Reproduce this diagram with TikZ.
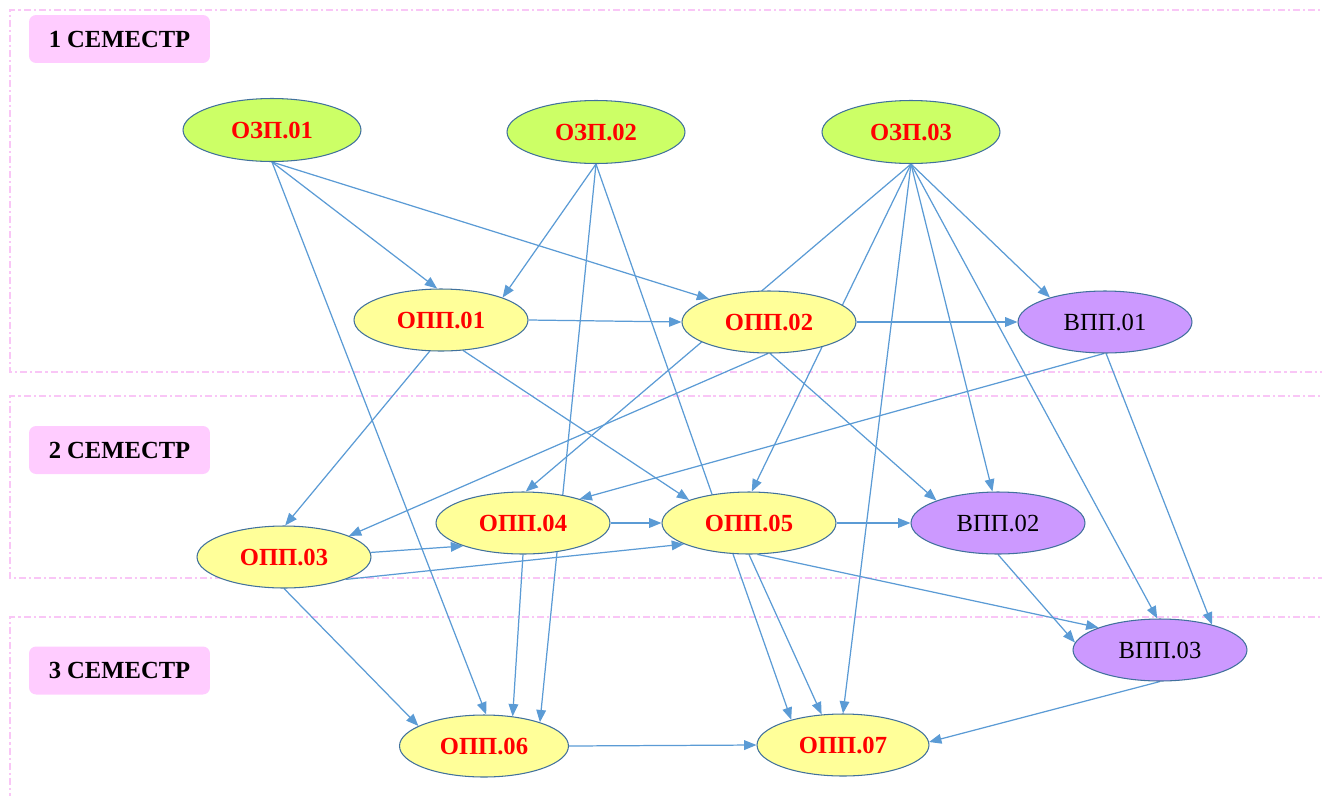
\documentclass[tikz,border=0pt]{standalone}
\usepackage{fontspec}
\setmainfont{Liberation Serif}
\usetikzlibrary{shapes.geometric,arrows.meta}
\definecolor{edgeblue}{HTML}{5B9BD5}
\definecolor{rimblue}{HTML}{41719C}
\definecolor{ozpfill}{HTML}{CCFF66}
\definecolor{oppfill}{HTML}{FFFF99}
\definecolor{vppfill}{HTML}{CC99FF}
\definecolor{semfill}{HTML}{FFCCFF}
\definecolor{semline}{HTML}{F9C6F6}
\pgfdeclarelayer{bg}
\pgfsetlayers{bg,main}
\begin{document}
\begin{tikzpicture}[x=0.02cm,y=-0.02cm,
  course/.style={ellipse, draw=rimblue, line width=0.6pt, minimum width=3.48cm,
    minimum height=1.24cm, inner sep=0pt, text=red,
    font=\fontsize{14}{16}\selectfont\bfseries},
  ozpnode/.style={course, fill=ozpfill, minimum width=3.56cm, minimum height=1.26cm},
  oppnode/.style={course, fill=oppfill},
  vppnode/.style={course, fill=vppfill, text=black, font=\fontsize{14}{16}\selectfont},
  link/.style={draw=edgeblue, line width=0.7pt, -{Triangle[length=7pt,width=5.5pt]}},
  semlabel/.style={fill=semfill, rounded corners=4pt, minimum width=3.62cm,
    minimum height=0.96cm, inner sep=0pt, font=\fontsize{14}{16}\selectfont\bfseries},
  semframe/.style={draw=semline, line width=0.6pt,
    dash pattern=on 4pt off 1.7pt on 1.2pt off 1.7pt}]
\useasboundingbox (0,0) rectangle (1322,795);
\clip (0,0) rectangle (1322,795);

% semester labels
\node[semlabel] (s1) at (119.5,39) {1 СЕМЕСТР};
\node[semlabel] (s2) at (119.5,450) {2 СЕМЕСТР};
\node[semlabel] (s3) at (119.5,670.5) {3 СЕМЕСТР};

% courses
\node[ozpnode] (o1) at (272,130) {ОЗП.01};
\node[ozpnode] (o2) at (596,132) {ОЗП.02};
\node[ozpnode] (o3) at (911,132) {ОЗП.03};
\node[oppnode] (p1) at (441,320) {ОПП.01};
\node[oppnode] (p2) at (769,322) {ОПП.02};
\node[vppnode] (v1) at (1105,322) {ВПП.01};
\node[oppnode] (p3) at (284,557) {ОПП.03};
\node[oppnode] (p4) at (523,523) {ОПП.04};
\node[oppnode] (p5) at (749,523) {ОПП.05};
\node[vppnode] (v2) at (998,523) {ВПП.02};
\node[vppnode] (v3) at (1160,650) {ВПП.03};
\node[oppnode, minimum width=3.38cm] (p6) at (484,746) {ОПП.06};
\node[oppnode, minimum width=3.44cm] (p7) at (843,745) {ОПП.07};

\begin{pgfonlayer}{bg}
  % semester frames
  \draw[semframe] (1330,10) -- (10,10) -- (10,372) -- (1330,372);
  \draw[semframe] (1330,396) -- (10,396) -- (10,578) -- (1330,578);
  \draw[semframe] (1330,617) -- (10,617) -- (10,810);

  % connectors
  \draw[link] (o1.south) -- (p1.97);
  \draw[link] (o1.south) -- (p2.159);
  \draw[link] (o1.south) -- (p6.86);
  \draw[link] (o2.south) -- (p1.20);
  \draw[link] (o2.south) -- (p6.23);
  \draw[link] (o2.south) -- (p7.154);
  \draw[link] (o3.south) -- (p4.85);
  \draw[link] (o3.south) -- (p5.85);
  \draw[link] (o3.south) -- (v1.156);
  \draw[link] (o3.south) -- (v2.100);
  \draw[link] (o3.south) -- (v3.95);
  \draw[link] (o3.south) -- (p7.north);
  \draw[link] (p1.east) -- (p2.west);
  \draw[link] (p1.250) -- (p3.88);
  \draw[link] (p1.306) -- (p5.159);
  \draw[link] (p2.east) -- (v1.west);
  \draw[link] (p2.268) -- (p3.18);
  \draw[link] (p2.272) -- (v2.160);
  \draw[link] (v1.268) -- (p4.23);
  \draw[link] (v1.272) -- (v3.26);
  \draw[link] (p3.3) -- (p4.201);
  \draw[link] (p3.340) -- (p5.198);
  \draw[link] (p3.south) -- (p6.163);
  \draw[link] (p4.east) -- (p5.west);
  \draw[link] (p4.south) -- (p6.46);
  \draw[link] (p5.east) -- (v2.west);
  \draw[link] (p5.285) -- (v3.160);
  \draw[link] (p5.south) -- (p7.125);
  \draw[link] (v2.south) -- (v3.175);
  \draw[link] (v3.south) -- (p7.2);
  \draw[link] (p6.east) -- (p7.west);
\end{pgfonlayer}
\end{tikzpicture}
\end{document}
